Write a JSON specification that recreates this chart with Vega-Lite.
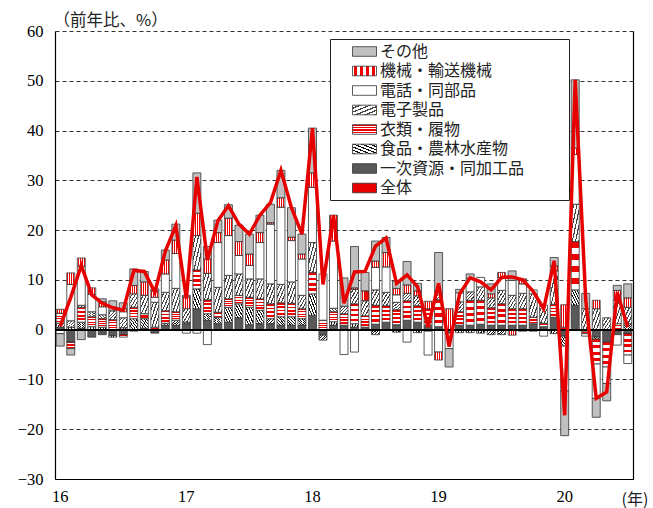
{
  "$schema": "https://vega.github.io/schema/vega-lite/v6.json",
  "width": 578,
  "height": 448,
  "autosize": {"type": "none"},
  "padding": {"left": 55, "top": 31, "right": 20, "bottom": 29},
  "background": "white",
  "config": {"view": {"stroke": null}},
  "datasets": {
    "exports": [
      {"m":"2016-01","P":0.5,"F":0.8,"C":2.0,"E":0,"T":-0.8,"M":0.8,"O":-2.5,"L":0.7},
      {"m":"2016-02","P":-2.5,"F":0.5,"C":-1.3,"E":1.3,"T":7.3,"M":2.3,"O":-1.3,"L":6.5},
      {"m":"2016-03","P":0.3,"F":1.2,"C":3.0,"E":0.4,"T":7.8,"M":1.7,"O":-2.0,"L":12.9},
      {"m":"2016-04","P":-1.5,"F":0.6,"C":2.0,"E":1.0,"T":3.5,"M":1.3,"O":0,"L":7.0},
      {"m":"2016-05","P":-1.0,"F":0.5,"C":1.7,"E":0.8,"T":1.6,"M":1.0,"O":0.6,"L":5.3},
      {"m":"2016-06","P":-1.2,"F":-0.3,"C":2.0,"E":1.8,"T":0,"M":0,"O":2.0,"L":4.4},
      {"m":"2016-07","P":-1.0,"F":0.4,"C":-0.5,"E":2.0,"T":1.2,"M":0.6,"O":1.2,"L":3.9},
      {"m":"2016-08","P":0,"F":2.2,"C":2.3,"E":2.7,"T":-0.3,"M":1.7,"O":3.3,"L":11.9},
      {"m":"2016-09","P":0.3,"F":1.9,"C":1.0,"E":3.7,"T":0,"M":2.7,"O":2.1,"L":11.7},
      {"m":"2016-10","P":-0.7,"F":0,"C":0.5,"E":5.0,"T":1.0,"M":1.3,"O":0.4,"L":7.5},
      {"m":"2016-11","P":0.9,"F":0.4,"C":2.5,"E":3.7,"T":3.7,"M":2.8,"O":2.0,"L":15.8},
      {"m":"2016-12","P":0.9,"F":1.0,"C":1.7,"E":4.7,"T":7.0,"M":2.7,"O":3.2,"L":20.9},
      {"m":"2017-01","P":1.2,"F":0.3,"C":0,"E":2.7,"T":-0.7,"M":2.4,"O":0.3,"L":6.2},
      {"m":"2017-02","P":4.2,"F":4.0,"C":3.8,"E":6.9,"T":-0.7,"M":4.5,"O":8.1,"L":30.7},
      {"m":"2017-03","P":1.9,"F":1.3,"C":2.8,"E":5.3,"T":-3.0,"M":2.9,"O":2.5,"L":14.0},
      {"m":"2017-04","P":1.2,"F":1.3,"C":1.0,"E":5.0,"T":9.0,"M":2.0,"O":2.5,"L":21.9},
      {"m":"2017-05","P":1.5,"F":3.0,"C":1.7,"E":4.7,"T":8.0,"M":3.5,"O":2.7,"L":24.9},
      {"m":"2017-06","P":2.4,"F":2.8,"C":1.7,"E":4.3,"T":3.7,"M":2.8,"O":3.3,"L":21.2},
      {"m":"2017-07","P":1.0,"F":3.5,"C":2.0,"E":3.7,"T":2.7,"M":2.3,"O":4.0,"L":19.2},
      {"m":"2017-08","P":1.2,"F":2.7,"C":2.3,"E":4.0,"T":7.3,"M":2.0,"O":3.5,"L":23.0},
      {"m":"2017-09","P":1.2,"F":1.0,"C":3.0,"E":4.0,"T":12.0,"M":0.3,"O":3.7,"L":25.5},
      {"m":"2017-10","P":0.9,"F":1.7,"C":2.8,"E":3.7,"T":15.5,"M":1.9,"O":5.5,"L":32.0},
      {"m":"2017-11","P":0.9,"F":1.7,"C":2.7,"E":4.3,"T":8.3,"M":0.7,"O":5.9,"L":24.5},
      {"m":"2017-12","P":0.9,"F":1.3,"C":2.0,"E":2.7,"T":7.3,"M":1.0,"O":4.0,"L":19.2},
      {"m":"2018-01","P":2.9,"F":4.3,"C":4.3,"E":6.0,"T":11.1,"M":2.9,"O":9.0,"L":40.5},
      {"m":"2018-02","P":-1.1,"F":-1.0,"C":1.9,"E":0,"T":9.3,"M":0,"O":0,"L":9.1},
      {"m":"2018-03","P":0.9,"F":0.7,"C":2.0,"E":0.7,"T":13.5,"M":5.2,"O":0,"L":23.0},
      {"m":"2018-04","P":0.9,"F":0,"C":2.3,"E":1.5,"T":-5.0,"M":0,"O":5.7,"L":5.3},
      {"m":"2018-05","P":0.5,"F":0.7,"C":4.0,"E":2.9,"T":-4.5,"M":0.3,"O":8.3,"L":11.6},
      {"m":"2018-06","P":0.5,"F":0,"C":2.3,"E":3.0,"T":0,"M":2.0,"O":3.7,"L":11.7},
      {"m":"2018-07","P":1.1,"F":-1.0,"C":3.8,"E":3.1,"T":4.5,"M":1.3,"O":4.0,"L":16.8},
      {"m":"2018-08","P":1.5,"F":0,"C":3.3,"E":2.7,"T":5.1,"M":2.9,"O":3.0,"L":18.4},
      {"m":"2018-09","P":1.0,"F":-0.5,"C":3.0,"E":1.5,"T":1.5,"M":1.3,"O":1.5,"L":9.3},
      {"m":"2018-10","P":1.9,"F":0,"C":3.9,"E":1.5,"T":-2.5,"M":1.7,"O":4.7,"L":11.0},
      {"m":"2018-11","P":1.5,"F":-0.6,"C":3.3,"E":2.0,"T":0,"M":1.0,"O":1.5,"L":8.6},
      {"m":"2018-12","P":0.9,"F":-0.3,"C":3.3,"E":0,"T":-4.8,"M":1.5,"O":0,"L":0.5},
      {"m":"2019-01","P":0.6,"F":0,"C":5.4,"E":1.5,"T":-4.5,"M":-1.6,"O":8.0,"L":9.3},
      {"m":"2019-02","P":-0.7,"F":0,"C":0,"E":0,"T":-3.1,"M":4.2,"O":-3.7,"L":-3.4},
      {"m":"2019-03","P":0.9,"F":-0.6,"C":2.7,"E":2.0,"T":1.8,"M":0,"O":0.7,"L":7.2},
      {"m":"2019-04","P":0.9,"F":-0.6,"C":5.0,"E":1.7,"T":2.7,"M":0,"O":0.9,"L":10.4},
      {"m":"2019-05","P":1.1,"F":-0.7,"C":4.8,"E":2.7,"T":1.9,"M":0,"O":0,"L":9.6},
      {"m":"2019-06","P":0.9,"F":-1.0,"C":3.5,"E":2.0,"T":0,"M":0.8,"O":2.0,"L":8.0},
      {"m":"2019-07","P":0.9,"F":-1.0,"C":4.3,"E":2.7,"T":2.6,"M":1.0,"O":0,"L":10.5},
      {"m":"2019-08","P":0.9,"F":0,"C":3.3,"E":2.7,"T":3.0,"M":-1.1,"O":1.9,"L":10.6},
      {"m":"2019-09","P":0.9,"F":-0.3,"C":3.3,"E":3.1,"T":1.9,"M":1.0,"O":0,"L":10.0},
      {"m":"2019-10","P":1.2,"F":-0.3,"C":1.3,"E":4.7,"T":0.8,"M":0,"O":0,"L":7.7},
      {"m":"2019-11","P":0.6,"F":0,"C":0.7,"E":3.6,"T":-1.3,"M":0,"O":0,"L":4.2},
      {"m":"2019-12","P":2.5,"F":-0.8,"C":2.6,"E":6.7,"T":0,"M":1.0,"O":1.7,"L":13.8},
      {"m":"2020-01","P":-1.3,"F":-2.0,"C":0.5,"E":0,"T":-9.0,"M":4.5,"O":-9.0,"L":-17.2},
      {"m":"2020-02","P":4.9,"F":3.1,"C":9.7,"E":7.5,"T":10.0,"M":1.3,"O":13.7,"L":50.2},
      {"m":"2020-03","P":0,"F":-0.3,"C":-0.5,"E":4.2,"T":-0.5,"M":0,"O":3.1,"L":6.0},
      {"m":"2020-04","P":-1.5,"F":-0.4,"C":-5.0,"E":4.2,"T":-6.9,"M":1.7,"O":-3.8,"L":-13.8},
      {"m":"2020-05","P":-2.5,"F":0,"C":-5.0,"E":2.4,"T":-3.3,"M":0,"O":-3.5,"L":-12.5},
      {"m":"2020-06","P":-1.0,"F":0,"C":1.2,"E":4.7,"T":-2.1,"M":2.0,"O":1.0,"L":7.5},
      {"m":"2020-07","P":-0.8,"F":1.2,"C":-4.3,"E":3.3,"T":-1.7,"M":1.9,"O":2.8,"L":0.5}
    ]
  },
  "data": {"name": "exports"},
  "resolve": {"axis": {"y": "independent"}},
  "layer": [
    {
      "transform": [
        {"fold": ["P", "F", "C", "E", "T", "M", "O"], "as": ["k", "v"]},
        {"filter": "datum.v != 0"},
        {"calculate": "indexof(['P','F','C','E','T','M','O'], datum.k)", "as": "ord"}
      ],
      "mark": {"type": "bar", "stroke": "#333333", "strokeWidth": 0.8},
      "encoding": {
        "x": {
          "field": "m", "type": "ordinal",
          "scale": {"paddingInner": 0.24, "paddingOuter": 0.12},
          "axis": {
            "title": "(年)", "titleX": 566, "titleY": 25, "titleAlign": "left", "titleBaseline": "alphabetic",
            "titleFont": "Noto Sans CJK JP", "titleFontSize": 16, "titleFontWeight": "normal", "titleColor": "#222222",
            "labelExpr": "substring(datum.value,5,7) == '01' ? substring(datum.value,2,4) : ''",
            "labelAngle": 0, "labelOverlap": false, "ticks": false, "labelPadding": 9,
            "labelFont": "Liberation Serif", "labelFontSize": 16.5, "labelColor": "#000000",
            "domainColor": "#000000", "domainWidth": 1.2, "grid": false
          }
        },
        "y": {
          "field": "v", "type": "quantitative", "stack": "zero",
          "scale": {"domain": [-30, 60], "nice": false},
          "axis": {
            "title": "（前年比、%）", "titleAngle": 0, "titleAlign": "left", "titleBaseline": "alphabetic",
            "titleX": -2, "titleY": -6, "titleFont": "Noto Sans CJK JP", "titleFontSize": 16.5,
            "titleFontWeight": "normal", "titleColor": "#222222",
            "values": [-30, -20, -10, 0, 10, 20, 30, 40, 50, 60],
            "ticks": false, "labelPadding": 12, "labelFont": "Liberation Serif", "labelFontSize": 16.5,
            "labelColor": "#000000", "domainColor": "#000000", "domainWidth": 1.2,
            "gridColor": "#333333", "gridDash": [4, 3], "gridWidth": 1
          }
        },
        "order": {"field": "ord", "type": "quantitative"},
        "fill": {
          "condition": [
            {"test": "datum.k == 'M'", "value": {"id": "gM", "gradient": "linear", "x1": 0, "y1": 0, "x2": 1, "y2": 0, "stops": [
              {"offset": 0, "color": "#ffffff"}, {"offset": 0.06, "color": "#ffffff"},
              {"offset": 0.06, "color": "#f00000"}, {"offset": 0.19, "color": "#f00000"},
              {"offset": 0.19, "color": "#ffffff"}, {"offset": 0.31, "color": "#ffffff"},
              {"offset": 0.31, "color": "#f00000"}, {"offset": 0.44, "color": "#f00000"},
              {"offset": 0.44, "color": "#ffffff"}, {"offset": 0.56, "color": "#ffffff"},
              {"offset": 0.56, "color": "#f00000"}, {"offset": 0.69, "color": "#f00000"},
              {"offset": 0.69, "color": "#ffffff"}, {"offset": 0.81, "color": "#ffffff"},
              {"offset": 0.81, "color": "#f00000"}, {"offset": 0.94, "color": "#f00000"},
              {"offset": 0.94, "color": "#ffffff"}, {"offset": 1, "color": "#ffffff"}
            ]}},
            {"test": "datum.k == 'E'", "value": {"id": "gE", "gradient": "linear", "x1": 0, "y1": 0, "x2": 1, "y2": 1, "stops": [
              {"offset": 0, "color": "#ffffff"}, {"offset": 0.13, "color": "#ffffff"},
              {"offset": 0.13, "color": "#444444"}, {"offset": 0.2, "color": "#444444"},
              {"offset": 0.2, "color": "#ffffff"}, {"offset": 0.33, "color": "#ffffff"},
              {"offset": 0.33, "color": "#444444"}, {"offset": 0.4, "color": "#444444"},
              {"offset": 0.4, "color": "#ffffff"}, {"offset": 0.53, "color": "#ffffff"},
              {"offset": 0.53, "color": "#444444"}, {"offset": 0.6, "color": "#444444"},
              {"offset": 0.6, "color": "#ffffff"}, {"offset": 0.73, "color": "#ffffff"},
              {"offset": 0.73, "color": "#444444"}, {"offset": 0.8, "color": "#444444"},
              {"offset": 0.8, "color": "#ffffff"}, {"offset": 0.93, "color": "#ffffff"},
              {"offset": 0.93, "color": "#444444"}, {"offset": 1, "color": "#444444"}
            ]}},
            {"test": "datum.k == 'C'", "value": {"id": "gC", "gradient": "linear", "x1": 0, "y1": 0, "x2": 0, "y2": 1, "stops": [
              {"offset": 0, "color": "#f00000"}, {"offset": 0.125, "color": "#f00000"},
              {"offset": 0.125, "color": "#ffffff"}, {"offset": 0.25, "color": "#ffffff"},
              {"offset": 0.25, "color": "#f00000"}, {"offset": 0.375, "color": "#f00000"},
              {"offset": 0.375, "color": "#ffffff"}, {"offset": 0.5, "color": "#ffffff"},
              {"offset": 0.5, "color": "#f00000"}, {"offset": 0.625, "color": "#f00000"},
              {"offset": 0.625, "color": "#ffffff"}, {"offset": 0.75, "color": "#ffffff"},
              {"offset": 0.75, "color": "#f00000"}, {"offset": 0.875, "color": "#f00000"},
              {"offset": 0.875, "color": "#ffffff"}, {"offset": 1, "color": "#ffffff"}
            ]}},
            {"test": "datum.k == 'F'", "value": {"id": "gF", "gradient": "linear", "x1": 1, "y1": 0, "x2": 0, "y2": 1, "stops": [
              {"offset": 0, "color": "#ffffff"}, {"offset": 0.1, "color": "#ffffff"},
              {"offset": 0.1, "color": "#111111"}, {"offset": 0.167, "color": "#111111"},
              {"offset": 0.167, "color": "#ffffff"}, {"offset": 0.267, "color": "#ffffff"},
              {"offset": 0.267, "color": "#111111"}, {"offset": 0.333, "color": "#111111"},
              {"offset": 0.333, "color": "#ffffff"}, {"offset": 0.433, "color": "#ffffff"},
              {"offset": 0.433, "color": "#111111"}, {"offset": 0.5, "color": "#111111"},
              {"offset": 0.5, "color": "#ffffff"}, {"offset": 0.6, "color": "#ffffff"},
              {"offset": 0.6, "color": "#111111"}, {"offset": 0.667, "color": "#111111"},
              {"offset": 0.667, "color": "#ffffff"}, {"offset": 0.767, "color": "#ffffff"},
              {"offset": 0.767, "color": "#111111"}, {"offset": 0.833, "color": "#111111"},
              {"offset": 0.833, "color": "#ffffff"}, {"offset": 0.933, "color": "#ffffff"},
              {"offset": 0.933, "color": "#111111"}, {"offset": 1, "color": "#111111"}
            ]}},
            {"test": "datum.k == 'P'", "value": "#595959"},
            {"test": "datum.k == 'T'", "value": "#ffffff"}
          ],
          "value": "#c0c0c0"
        }
      }
    },
    {
      "transform": [
        {"fold": ["P", "F", "C", "E", "T", "M", "O"], "as": ["k", "v"]},
        {"filter": "false"}
      ],
      "mark": {"type": "bar"},
      "encoding": {
        "x": {"field": "m", "type": "ordinal"},
        "y": {"field": "v", "type": "quantitative", "scale": {"domain": [-30, 60], "nice": false}, "axis": null},
        "fill": {
          "field": "k", "type": "nominal",
          "scale": {
            "domain": ["O", "M", "T", "E", "C", "F", "P", "L"],
            "range": ["#c0c0c0", "url(#gM)", "#ffffff", "url(#gE)", "url(#gC)", "url(#gF)", "#595959", "#e60000"]
          },
          "legend": {
            "orient": "none", "legendX": 275, "legendY": 8, "title": null,
            "strokeColor": "#222222", "fillColor": "#ffffff", "padding": 4, "symbolOffset": 22,
            "labelFont": "Noto Sans CJK JP", "labelFontSize": 16, "labelColor": "#222222", "labelLimit": 300,
            "labelOffset": 7, "rowPadding": 2.5, "symbolSize": 256, "symbolStrokeWidth": 0.8,
            "symbolStrokeColor": "#333333",
            "symbolType": "M-1.5,-0.6H1.5V0.6H-1.5Z",
            "labelExpr": "datum.value == 'O' ? 'その他' : datum.value == 'M' ? '機械・輸送機械' : datum.value == 'T' ? '電話・同部品' : datum.value == 'E' ? '電子製品' : datum.value == 'C' ? '衣類・履物' : datum.value == 'F' ? '食品・農林水産物' : datum.value == 'P' ? '一次資源・同加工品\u3000\u2002\u2002\u2002\u200b' : '全体'"
          }
        }
      }
    },
    {
      "mark": {"type": "rule", "color": "#000000", "strokeWidth": 1.3},
      "encoding": {
        "y": {
          "datum": 0, "type": "quantitative",
          "scale": {"domain": [-30, 60], "nice": false},
          "axis": {"orient": "right", "labels": false, "ticks": false, "grid": false, "title": null, "domainColor": "#000000", "domainWidth": 1.2}
        }
      }
    },
    {
      "mark": {"type": "line", "color": "#e60000", "strokeWidth": 3.5},
      "encoding": {
        "x": {"field": "m", "type": "ordinal"},
        "y": {"field": "L", "type": "quantitative", "scale": {"domain": [-30, 60], "nice": false}, "axis": null}
      }
    }
  ]
}
